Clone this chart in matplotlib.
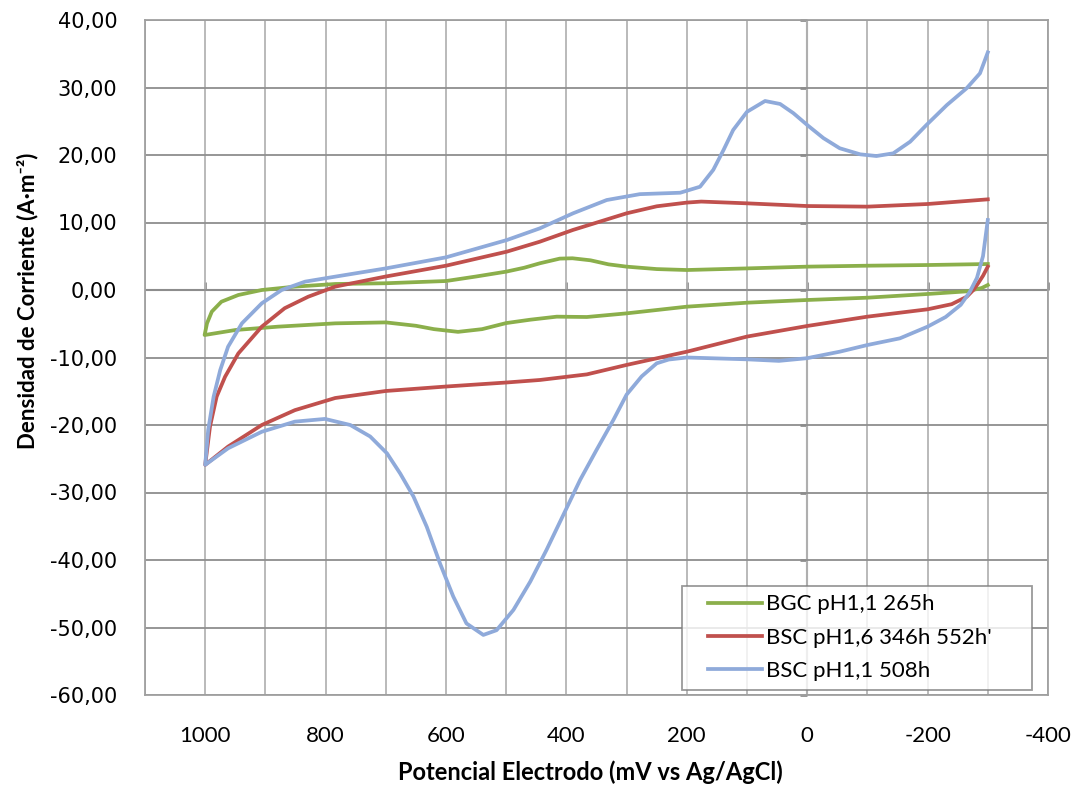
import matplotlib
matplotlib.use("Agg")
import matplotlib.pyplot as plt
from matplotlib.ticker import MultipleLocator, FuncFormatter
from matplotlib.legend_handler import HandlerLine2D
from matplotlib.lines import Line2D

# ---------------- data (mV vs Ag/AgCl, A/m2) ----------------
bgc_x = [-300, -200, -100, 0, 100, 200, 250, 300, 330, 360, 390, 411, 444, 470, 500, 550, 600,
         700, 784, 851, 906, 945, 973, 989, 997, 1001,
         950, 879, 784, 700, 650, 620, 580, 540, 500, 460, 416, 366, 300, 200,
         100, 0, -100, -200, -265, -290, -300]
bgc_y = [3.85, 3.7, 3.6, 3.46, 3.2, 2.96, 3.1, 3.46, 3.8, 4.4, 4.7, 4.65, 3.96, 3.3, 2.72, 2.0, 1.33,
         1.0, 0.89, 0.5, 0.0, -0.74, -1.73, -3.2, -4.94, -6.67,
         -5.93, -5.43, -4.94, -4.8, -5.3, -5.8, -6.2, -5.8, -4.9, -4.4, -3.95, -4.0, -3.46, -2.47,
         -1.88, -1.48, -1.14, -0.59, -0.2, 0.3, 0.74]

bsc16_x = [-300, -200, -100, 0, 100, 176, 200, 250, 300, 389, 444, 499, 600, 700,
           784, 829, 868, 906, 945, 967, 981, 992, 1000,
           962, 906, 851, 784, 700, 600, 499, 444, 366, 300, 200, 100, 0, -100, -200,
           -240, -265, -276, -284, -292, -300]
bsc16_y = [13.43, 12.74, 12.35, 12.44, 12.84, 13.1, 12.95, 12.4, 11.36, 8.9, 7.16, 5.68, 3.6, 2.0,
           0.5, -1.0, -2.7, -5.43, -9.4, -12.85, -15.8, -20.2, -25.9,
           -23.2, -20.0, -17.8, -16.0, -14.96, -14.3, -13.7, -13.33, -12.5, -11.1, -9.14, -6.9, -5.33, -3.95, -2.86,
           -2.1, -1.0, 0.0, 1.0, 2.1, 3.46]

bsc11_x = [-300, -287, -265, -232, -198, -171, -143, -115, -88, -54, -27, -2, 23, 45, 70,
           100, 123, 139, 156, 178, 211, 278, 333, 389, 444, 499, 600, 700, 784, 834,
           873, 906, 939, 962, 975, 986, 995, 1000,
           962, 906, 851, 801, 759, 726, 698, 676, 654, 632, 610, 588, 566, 538, 516,
           488, 460, 433, 405, 377, 350, 322, 300, 275, 250, 230, 200, 100, 47, 0, -54,
           -100, -154, -200, -230, -255, -270, -282, -292, -300]
bsc11_y = [35.2, 32.1, 29.9, 27.4, 24.44, 21.97, 20.25, 19.85, 20.1, 21.0, 22.5, 24.3, 26.2, 27.56, 28.0,
           26.4, 23.7, 20.74, 17.8, 15.3, 14.41, 14.2, 13.33, 11.36, 9.14, 7.4, 4.84, 3.2, 1.98, 1.24,
           0.0, -1.97, -4.94, -8.4, -11.85, -15.8, -20.7, -25.9,
           -23.45, -21.0, -19.5, -19.1, -20.0, -21.7, -24.2, -27.2, -30.6, -35.07, -40.5, -45.4, -49.4, -51.1, -50.4,
           -47.4, -43.2, -38.5, -33.3, -28.1, -23.7, -19.26, -15.5, -12.8, -10.86, -10.3, -10.0, -10.27, -10.5, -10.1, -9.14,
           -8.15, -7.16, -5.43, -4.0, -2.2, -0.3, 1.8, 5.0, 10.37]

labels = ["BGC pH1,1 265h", "BSC pH1,6 346h 552h'", "BSC pH1,1 508h"]
colors = ["#8BAF4B", "#C0504D", "#8FAADA"]

x_ticks = [1000, 800, 600, 400, 200, 0, -200, -400]
# ---------------------------------------------------------------

plt.rcParams['font.family'] = ['Lato', 'DejaVu Sans']

fig = plt.figure(figsize=(10.8, 7.87), dpi=100)
L, R, T, B = 145, 1048, 20, 695
W, H = 1080, 787
ax = fig.add_axes([L / W, 1 - B / H, (R - L) / W, (B - T) / H])

ax.set_xlim(1100, -400)
ax.set_ylim(-60, 40)

ax.xaxis.set_minor_locator(MultipleLocator(100))
ax.yaxis.set_major_locator(MultipleLocator(10))
ax.set_xticks(x_ticks)

ax.grid(True, axis='x', which='both', color='#B4B4B4', linewidth=1.3, zorder=0)
ax.grid(True, axis='y', which='major', color='#8E8E8E', linewidth=1.3, zorder=0)
for s in ax.spines.values():
    s.set_color('#A0A0A0')
    s.set_linewidth(1.3)

ax.tick_params(axis='both', which='both', length=0)
ax.tick_params(axis='x', pad=22, labelsize=16)
ax.tick_params(axis='y', pad=20, labelsize=15)
ax.xaxis.set_major_formatter(FuncFormatter(lambda v, p: f"{int(round(v))}"))
ax.yaxis.set_major_formatter(FuncFormatter(lambda v, p: f"{v:.2f}".replace('.', ',')))
for t in ax.get_yticklabels():
    t.set_fontfamily('DejaVu Sans')

# axis lines crossing at zero
ax.axhline(0, color='#858585', linewidth=1.5, zorder=1)
ax.axvline(0, color='#858585', linewidth=1.5, zorder=1)
sx = ax.secondary_xaxis(0.6)
sx.set_xticks(x_ticks, labels=[])
sx.tick_params(axis='x', length=6, width=1.8, color='#7A7A7A', direction='out',
               labelbottom=False, labeltop=False)
for s in sx.spines.values():
    s.set_visible(False)
sy = ax.secondary_yaxis(1100 / 1500)
sy.set_yticks(list(range(-60, 41, 10)), labels=[])
sy.tick_params(axis='y', length=5, width=1.8, color='#7A7A7A', direction='in',
               labelleft=False, labelright=False)
for s in sy.spines.values():
    s.set_visible(False)

lw = 2.7
ax.plot(bgc_x, bgc_y, color=colors[0], lw=lw, label=labels[0], zorder=3, solid_joinstyle='round')
ax.plot(bsc16_x, bsc16_y, color=colors[1], lw=lw, label=labels[1], zorder=3, solid_joinstyle='round')
ax.plot(bsc11_x, bsc11_y, color=colors[2], lw=lw, label=labels[2], zorder=3, solid_joinstyle='round')

leg = ax.legend(loc='lower left', bbox_to_anchor=((682 - L) / (R - L), (B - 690) / (B - T),
                                                   (1032 - 682) / (R - L), (690 - 565) / (B - T)),
                mode='expand', fontsize=16, frameon=True, fancybox=False,
                handlelength=3.2, handletextpad=0.2, borderpad=0.4, labelspacing=0.6,
                borderaxespad=0, handler_map={Line2D: HandlerLine2D(xpad=0.77)})
leg.get_frame().set_edgecolor('#808080')
leg.get_frame().set_linewidth(1.3)
leg.set_zorder(5)

fig.text(590 / W, 1 - 772 / H, "Potencial Electrodo (mV vs Ag/AgCl)", ha='center', va='center',
         fontsize=17, fontweight='bold')
fig.text(28 / W, 1 - 301 / H, "Densidad de Corriente (A·m⁻²)", ha='center', va='center',
         rotation=90, fontsize=16, fontweight='bold')

fig.savefig("out.png", dpi=100)
